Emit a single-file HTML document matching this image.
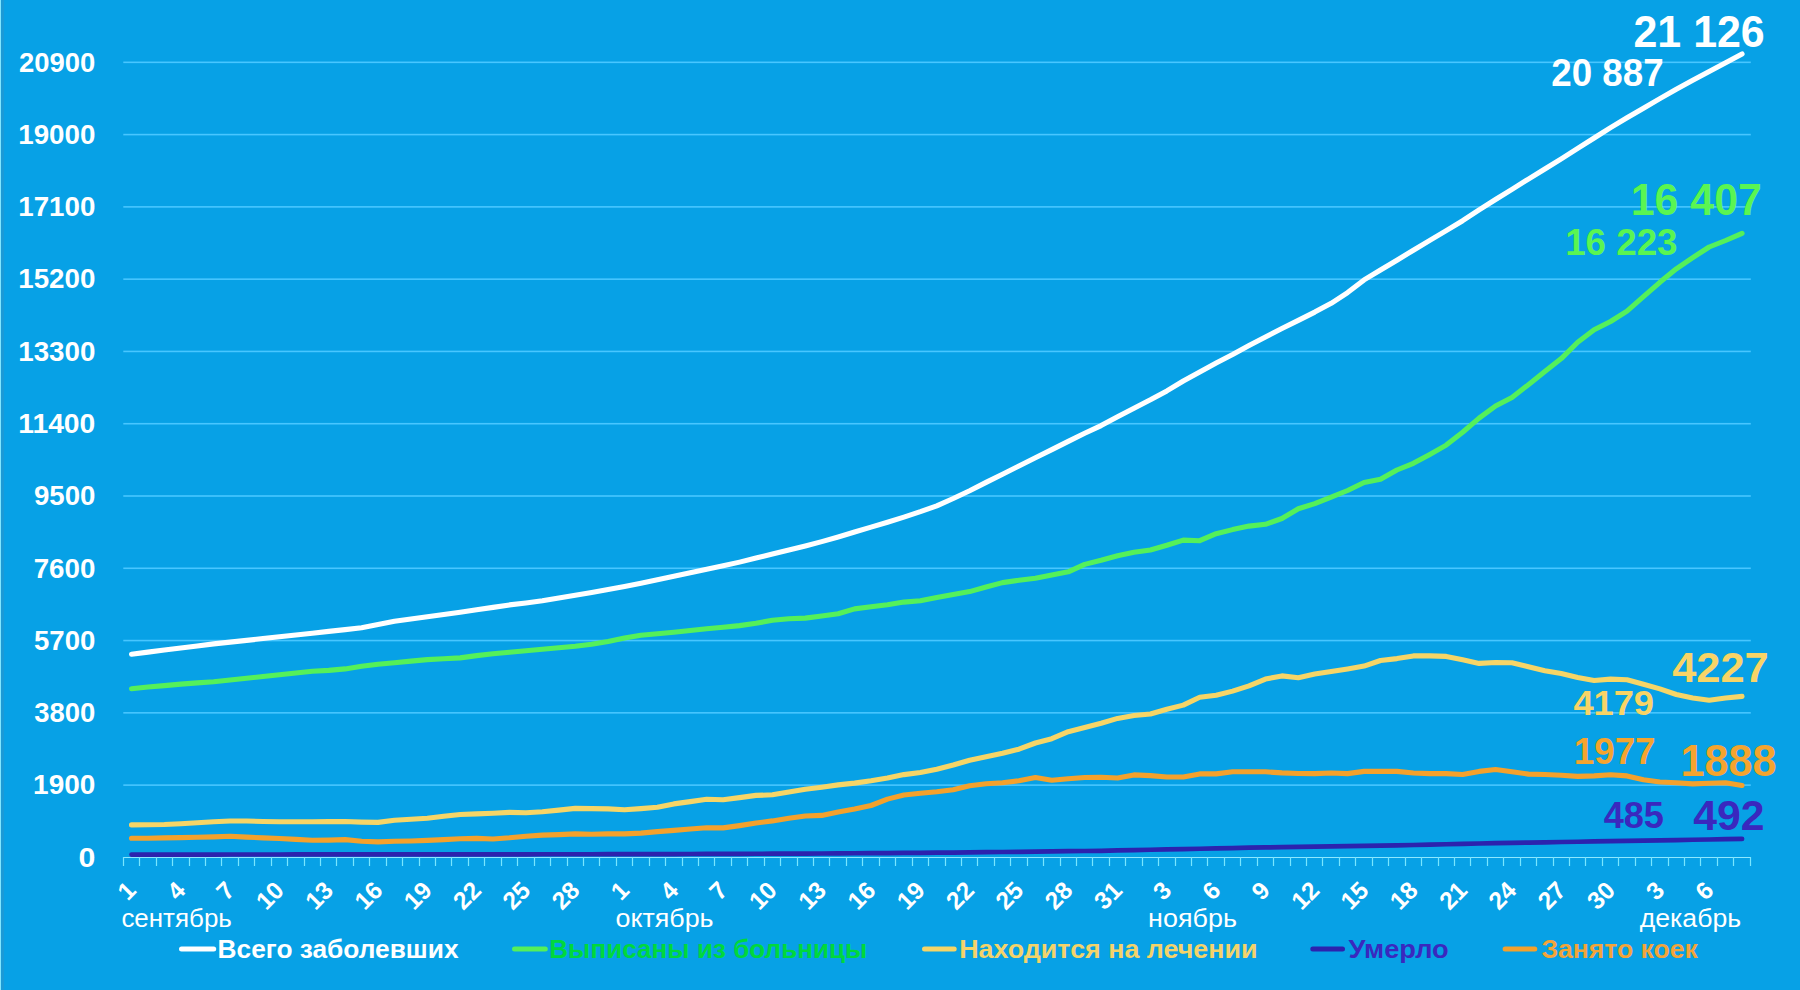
<!DOCTYPE html><html><head><meta charset="utf-8"><title>chart</title><style>
html,body{margin:0;padding:0;width:1800px;height:990px;overflow:hidden;background:#07a1e6}
svg{display:block}
text{font-family:"Liberation Sans",Arial,sans-serif}
</style></head><body>
<svg width="1800" height="990" viewBox="0 0 1800 990">
<rect x="0" y="0" width="1800" height="990" fill="#07a1e6"/>
<rect x="0" y="0" width="1" height="990" fill="#7fe6ff"/>
<rect x="1" y="0" width="3" height="990" fill="#1b9ad6"/>
<rect x="123.3" y="784.32" width="1627.5" height="1.6" fill="#48c6ff"/>
<rect x="123.3" y="712.04" width="1627.5" height="1.6" fill="#48c6ff"/>
<rect x="123.3" y="639.76" width="1627.5" height="1.6" fill="#48c6ff"/>
<rect x="123.3" y="567.48" width="1627.5" height="1.6" fill="#48c6ff"/>
<rect x="123.3" y="495.20" width="1627.5" height="1.6" fill="#48c6ff"/>
<rect x="123.3" y="422.92" width="1627.5" height="1.6" fill="#48c6ff"/>
<rect x="123.3" y="350.64" width="1627.5" height="1.6" fill="#48c6ff"/>
<rect x="123.3" y="278.36" width="1627.5" height="1.6" fill="#48c6ff"/>
<rect x="123.3" y="206.08" width="1627.5" height="1.6" fill="#48c6ff"/>
<rect x="123.3" y="133.80" width="1627.5" height="1.6" fill="#48c6ff"/>
<rect x="123.3" y="61.52" width="1627.5" height="1.6" fill="#48c6ff"/>
<rect x="123" y="857" width="1628" height="1" fill="#8ee8ff"/>
<path d="M123.5,857V866M139.5,857V866M156.5,857V866M172.5,857V866M189.5,857V866M205.5,857V866M221.5,857V866M238.5,857V866M254.5,857V866M271.5,857V866M287.5,857V866M304.5,857V866M320.5,857V866M336.5,857V866M353.5,857V866M369.5,857V866M386.5,857V866M402.5,857V866M419.5,857V866M435.5,857V866M451.5,857V866M468.5,857V866M484.5,857V866M501.5,857V866M517.5,857V866M534.5,857V866M550.5,857V866M567.5,857V866M583.5,857V866M599.5,857V866M616.5,857V866M632.5,857V866M649.5,857V866M665.5,857V866M682.5,857V866M698.5,857V866M714.5,857V866M731.5,857V866M747.5,857V866M764.5,857V866M780.5,857V866M797.5,857V866M813.5,857V866M829.5,857V866M846.5,857V866M862.5,857V866M879.5,857V866M895.5,857V866M912.5,857V866M928.5,857V866M945.5,857V866M961.5,857V866M977.5,857V866M994.5,857V866M1010.5,857V866M1027.5,857V866M1043.5,857V866M1060.5,857V866M1076.5,857V866M1092.5,857V866M1109.5,857V866M1125.5,857V866M1142.5,857V866M1158.5,857V866M1175.5,857V866M1191.5,857V866M1207.5,857V866M1224.5,857V866M1240.5,857V866M1257.5,857V866M1273.5,857V866M1290.5,857V866M1306.5,857V866M1322.5,857V866M1339.5,857V866M1355.5,857V866M1372.5,857V866M1388.5,857V866M1405.5,857V866M1421.5,857V866M1438.5,857V866M1454.5,857V866M1470.5,857V866M1487.5,857V866M1503.5,857V866M1520.5,857V866M1536.5,857V866M1553.5,857V866M1569.5,857V866M1585.5,857V866M1602.5,857V866M1618.5,857V866M1635.5,857V866M1651.5,857V866M1668.5,857V866M1684.5,857V866M1700.5,857V866M1717.5,857V866M1733.5,857V866M1750.5,857V866" stroke="#78e6ff" stroke-width="1.2" fill="none"/>
<text x="78.60" y="866.73" font-size="27.40" textLength="16.84" lengthAdjust="spacingAndGlyphs" fill="#fff" style="font-weight:700" >0</text>
<text x="33.14" y="794.45" font-size="27.40" textLength="62.21" lengthAdjust="spacingAndGlyphs" fill="#fff" style="font-weight:700" >1900</text>
<text x="34.27" y="722.13" font-size="27.34" textLength="61.06" lengthAdjust="spacingAndGlyphs" fill="#fff" style="font-weight:700" >3800</text>
<text x="34.05" y="649.89" font-size="27.40" textLength="61.28" lengthAdjust="spacingAndGlyphs" fill="#fff" style="font-weight:700" >5700</text>
<text x="33.71" y="577.61" font-size="27.40" textLength="61.63" lengthAdjust="spacingAndGlyphs" fill="#fff" style="font-weight:700" >7600</text>
<text x="33.94" y="505.33" font-size="27.40" textLength="61.39" lengthAdjust="spacingAndGlyphs" fill="#fff" style="font-weight:700" >9500</text>
<text x="18.25" y="433.05" font-size="27.40" textLength="77.08" lengthAdjust="spacingAndGlyphs" fill="#fff" style="font-weight:700" >11400</text>
<text x="18.25" y="360.73" font-size="27.34" textLength="77.08" lengthAdjust="spacingAndGlyphs" fill="#fff" style="font-weight:700" >13300</text>
<text x="18.25" y="288.49" font-size="27.40" textLength="77.08" lengthAdjust="spacingAndGlyphs" fill="#fff" style="font-weight:700" >15200</text>
<text x="18.25" y="216.21" font-size="27.40" textLength="77.08" lengthAdjust="spacingAndGlyphs" fill="#fff" style="font-weight:700" >17100</text>
<text x="18.25" y="143.93" font-size="27.40" textLength="77.08" lengthAdjust="spacingAndGlyphs" fill="#fff" style="font-weight:700" >19000</text>
<text x="19.05" y="71.65" font-size="27.40" textLength="76.28" lengthAdjust="spacingAndGlyphs" fill="#fff" style="font-weight:700" >20900</text>
<text transform="translate(137.52,891.80) rotate(-45)" text-anchor="end" font-size="24.5" fill="#fff" style="font-weight:700">1</text>
<text transform="translate(186.82,891.80) rotate(-45)" text-anchor="end" font-size="24.5" fill="#fff" style="font-weight:700">4</text>
<text transform="translate(236.12,891.80) rotate(-45)" text-anchor="end" font-size="24.5" fill="#fff" style="font-weight:700">7</text>
<text transform="translate(285.42,891.80) rotate(-45)" text-anchor="end" font-size="24.5" fill="#fff" style="font-weight:700">10</text>
<text transform="translate(334.73,891.80) rotate(-45)" text-anchor="end" font-size="24.5" fill="#fff" style="font-weight:700">13</text>
<text transform="translate(384.03,891.80) rotate(-45)" text-anchor="end" font-size="24.5" fill="#fff" style="font-weight:700">16</text>
<text transform="translate(433.33,891.80) rotate(-45)" text-anchor="end" font-size="24.5" fill="#fff" style="font-weight:700">19</text>
<text transform="translate(482.63,891.80) rotate(-45)" text-anchor="end" font-size="24.5" fill="#fff" style="font-weight:700">22</text>
<text transform="translate(531.93,891.80) rotate(-45)" text-anchor="end" font-size="24.5" fill="#fff" style="font-weight:700">25</text>
<text transform="translate(581.24,891.80) rotate(-45)" text-anchor="end" font-size="24.5" fill="#fff" style="font-weight:700">28</text>
<text transform="translate(630.54,891.80) rotate(-45)" text-anchor="end" font-size="24.5" fill="#fff" style="font-weight:700">1</text>
<text transform="translate(679.84,891.80) rotate(-45)" text-anchor="end" font-size="24.5" fill="#fff" style="font-weight:700">4</text>
<text transform="translate(729.14,891.80) rotate(-45)" text-anchor="end" font-size="24.5" fill="#fff" style="font-weight:700">7</text>
<text transform="translate(778.44,891.80) rotate(-45)" text-anchor="end" font-size="24.5" fill="#fff" style="font-weight:700">10</text>
<text transform="translate(827.75,891.80) rotate(-45)" text-anchor="end" font-size="24.5" fill="#fff" style="font-weight:700">13</text>
<text transform="translate(877.05,891.80) rotate(-45)" text-anchor="end" font-size="24.5" fill="#fff" style="font-weight:700">16</text>
<text transform="translate(926.35,891.80) rotate(-45)" text-anchor="end" font-size="24.5" fill="#fff" style="font-weight:700">19</text>
<text transform="translate(975.65,891.80) rotate(-45)" text-anchor="end" font-size="24.5" fill="#fff" style="font-weight:700">22</text>
<text transform="translate(1024.95,891.80) rotate(-45)" text-anchor="end" font-size="24.5" fill="#fff" style="font-weight:700">25</text>
<text transform="translate(1074.26,891.80) rotate(-45)" text-anchor="end" font-size="24.5" fill="#fff" style="font-weight:700">28</text>
<text transform="translate(1123.56,891.80) rotate(-45)" text-anchor="end" font-size="24.5" fill="#fff" style="font-weight:700">31</text>
<text transform="translate(1172.86,891.80) rotate(-45)" text-anchor="end" font-size="24.5" fill="#fff" style="font-weight:700">3</text>
<text transform="translate(1222.16,891.80) rotate(-45)" text-anchor="end" font-size="24.5" fill="#fff" style="font-weight:700">6</text>
<text transform="translate(1271.46,891.80) rotate(-45)" text-anchor="end" font-size="24.5" fill="#fff" style="font-weight:700">9</text>
<text transform="translate(1320.77,891.80) rotate(-45)" text-anchor="end" font-size="24.5" fill="#fff" style="font-weight:700">12</text>
<text transform="translate(1370.07,891.80) rotate(-45)" text-anchor="end" font-size="24.5" fill="#fff" style="font-weight:700">15</text>
<text transform="translate(1419.37,891.80) rotate(-45)" text-anchor="end" font-size="24.5" fill="#fff" style="font-weight:700">18</text>
<text transform="translate(1468.67,891.80) rotate(-45)" text-anchor="end" font-size="24.5" fill="#fff" style="font-weight:700">21</text>
<text transform="translate(1517.97,891.80) rotate(-45)" text-anchor="end" font-size="24.5" fill="#fff" style="font-weight:700">24</text>
<text transform="translate(1567.28,891.80) rotate(-45)" text-anchor="end" font-size="24.5" fill="#fff" style="font-weight:700">27</text>
<text transform="translate(1616.58,891.80) rotate(-45)" text-anchor="end" font-size="24.5" fill="#fff" style="font-weight:700">30</text>
<text transform="translate(1665.88,891.80) rotate(-45)" text-anchor="end" font-size="24.5" fill="#fff" style="font-weight:700">3</text>
<text transform="translate(1715.18,891.80) rotate(-45)" text-anchor="end" font-size="24.5" fill="#fff" style="font-weight:700">6</text>
<text x="121.40" y="926.80" font-size="25.74" textLength="110.47" lengthAdjust="spacingAndGlyphs" fill="#fff" style="font-weight:400">сентябрь</text>
<text x="615.57" y="926.80" font-size="25.74" textLength="98.03" lengthAdjust="spacingAndGlyphs" fill="#fff" style="font-weight:400">октябрь</text>
<text x="1148.13" y="926.80" font-size="25.74" textLength="88.77" lengthAdjust="spacingAndGlyphs" fill="#fff" style="font-weight:400">ноябрь</text>
<text x="1639.74" y="926.80" font-size="25.74" textLength="101.36" lengthAdjust="spacingAndGlyphs" fill="#fff" style="font-weight:400">декабрь</text>
<path d="M131.52,654.20 C131.52,654.20 147.95,652.14 147.95,652.14 C147.95,652.14 164.38,650.08 164.38,650.08 C164.38,650.08 180.82,648.02 180.82,648.02 C180.82,648.02 197.25,645.96 197.25,645.96 C197.25,645.96 213.69,643.90 213.69,643.90 C213.69,643.90 230.12,642.12 230.12,642.12 C230.12,642.12 246.56,640.34 246.56,640.34 C246.56,640.34 262.99,638.56 262.99,638.56 C262.99,638.56 279.42,636.78 279.42,636.78 C279.42,636.78 295.86,635.00 295.86,635.00 C295.86,635.00 312.29,633.20 312.29,633.20 C312.29,633.20 328.73,631.40 328.73,631.40 C328.73,631.40 345.16,629.60 345.16,629.60 C345.16,629.60 361.59,627.70 361.59,627.70 C361.59,627.70 378.03,624.50 378.03,624.50 C378.03,624.50 394.46,621.30 394.46,621.30 C394.46,621.30 410.90,619.05 410.90,619.05 C410.90,619.05 427.33,616.80 427.33,616.80 C427.33,616.80 443.76,614.55 443.76,614.55 C443.76,614.55 460.20,612.30 460.20,612.30 C460.20,612.30 476.63,609.83 476.63,609.83 C476.63,609.83 493.07,607.37 493.07,607.37 C493.07,607.37 509.50,604.90 509.50,604.90 C509.50,604.90 525.93,603.00 525.93,603.00 C525.93,603.00 542.37,600.74 542.37,600.74 C542.37,600.74 558.80,597.97 558.80,597.97 C558.80,597.97 575.24,595.24 575.24,595.24 C575.24,595.24 591.67,592.49 591.67,592.49 C591.67,592.49 608.10,589.55 608.10,589.55 C608.10,589.55 624.54,586.42 624.54,586.42 C624.54,586.42 640.97,583.16 640.97,583.16 C640.97,583.16 657.40,579.77 657.40,579.77 C657.40,579.77 673.84,576.26 673.84,576.26 C673.84,576.26 690.27,572.69 690.27,572.69 C690.27,572.69 706.71,569.24 706.71,569.24 C706.71,569.24 723.14,565.84 723.14,565.84 C723.14,565.84 739.58,562.12 739.58,562.12 C739.58,562.12 756.01,558.09 756.01,558.09 C756.01,558.09 772.44,554.06 772.44,554.06 C772.44,554.06 788.88,550.06 788.88,550.06 C788.88,550.06 805.31,545.94 805.31,545.94 C805.31,545.94 821.75,541.64 821.75,541.64 C821.75,541.64 838.18,536.99 838.18,536.99 C838.18,536.99 854.61,532.04 854.61,532.04 C854.61,532.04 871.05,527.09 871.05,527.09 C871.05,527.09 887.48,522.21 887.48,522.21 C887.48,522.21 903.91,517.14 903.91,517.14 C903.91,517.14 920.35,511.68 920.35,511.68 C920.35,511.68 936.78,505.80 936.78,505.80 C936.78,505.80 953.22,498.50 953.22,498.50 C953.22,498.50 969.65,490.70 969.65,490.70 C969.65,490.70 986.09,482.40 986.09,482.40 C986.09,482.40 1002.52,474.20 1002.52,474.20 C1002.52,474.20 1018.95,466.00 1018.95,466.00 C1018.95,466.00 1035.39,457.80 1035.39,457.80 C1035.39,457.80 1051.82,449.60 1051.82,449.60 C1051.82,449.60 1068.26,441.40 1068.26,441.40 C1068.26,441.40 1084.69,433.30 1084.69,433.30 C1084.69,433.30 1101.12,425.60 1101.12,425.60 C1101.12,425.60 1117.56,416.70 1117.56,416.70 C1117.56,416.70 1133.99,408.20 1133.99,408.20 C1133.99,408.20 1150.42,399.80 1150.42,399.80 C1150.42,399.80 1166.86,390.90 1166.86,390.90 C1166.86,390.90 1183.29,381.00 1183.29,381.00 C1183.29,381.00 1199.73,371.90 1199.73,371.90 C1199.73,371.90 1216.16,363.00 1216.16,363.00 C1216.16,363.00 1232.60,354.60 1232.60,354.60 C1232.60,354.60 1249.03,345.60 1249.03,345.60 C1249.03,345.60 1265.46,337.00 1265.46,337.00 C1265.46,337.00 1281.90,328.60 1281.90,328.60 C1281.90,328.60 1298.33,320.40 1298.33,320.40 C1298.33,320.40 1314.77,312.10 1314.77,312.10 C1314.77,312.10 1331.20,303.30 1331.20,303.30 C1331.20,303.30 1347.63,292.60 1347.63,292.60 C1347.63,292.60 1364.07,279.90 1364.07,279.90 C1364.07,279.90 1380.50,270.00 1380.50,270.00 C1380.50,270.00 1396.93,260.20 1396.93,260.20 C1396.93,260.20 1413.37,250.20 1413.37,250.20 C1413.37,250.20 1429.80,240.40 1429.80,240.40 C1429.80,240.40 1446.24,230.60 1446.24,230.60 C1446.24,230.60 1462.67,220.70 1462.67,220.70 C1462.67,220.70 1479.11,209.80 1479.11,209.80 C1479.11,209.80 1495.54,199.50 1495.54,199.50 C1495.54,199.50 1511.97,189.30 1511.97,189.30 C1511.97,189.30 1528.41,179.10 1528.41,179.10 C1528.41,179.10 1544.84,169.00 1544.84,169.00 C1544.84,169.00 1561.28,158.80 1561.28,158.80 C1561.28,158.80 1577.71,148.40 1577.71,148.40 C1577.71,148.40 1594.14,138.00 1594.14,138.00 C1594.14,138.00 1610.58,127.60 1610.58,127.60 C1610.58,127.60 1627.01,117.80 1627.01,117.80 C1627.01,117.80 1643.45,108.20 1643.45,108.20 C1643.45,108.20 1659.88,98.60 1659.88,98.60 C1659.88,98.60 1676.31,89.20 1676.31,89.20 C1676.31,89.20 1692.75,80.30 1692.75,80.30 C1692.75,80.30 1709.18,71.50 1709.18,71.50 C1709.18,71.50 1725.62,62.80 1725.62,62.80 C1725.62,62.80 1742.05,53.90 1742.05,53.90" fill="none" stroke="#ffffff" stroke-width="5.10" stroke-linecap="round" stroke-linejoin="round"/>
<path d="M131.52,688.80 C131.52,688.80 147.95,687.00 147.95,687.00 C147.95,687.00 164.38,685.60 164.38,685.60 C164.38,685.60 180.82,684.10 180.82,684.10 C180.82,684.10 197.25,682.90 197.25,682.90 C197.25,682.90 213.69,681.80 213.69,681.80 C213.69,681.80 230.12,680.00 230.12,680.00 C230.12,680.00 246.56,678.30 246.56,678.30 C246.56,678.30 262.99,676.50 262.99,676.50 C262.99,676.50 279.42,674.80 279.42,674.80 C279.42,674.80 295.86,673.00 295.86,673.00 C295.86,673.00 312.29,671.30 312.29,671.30 C312.29,671.30 328.73,670.40 328.73,670.40 C328.73,670.40 345.16,668.90 345.16,668.90 C345.16,668.90 361.59,666.30 361.59,666.30 C361.59,666.30 378.03,664.20 378.03,664.20 C378.03,664.20 394.46,662.80 394.46,662.80 C394.46,662.80 410.90,661.10 410.90,661.10 C410.90,661.10 427.33,659.60 427.33,659.60 C427.33,659.60 443.76,658.80 443.76,658.80 C443.76,658.80 460.20,657.90 460.20,657.90 C460.20,657.90 476.63,655.60 476.63,655.60 C476.63,655.60 493.07,653.80 493.07,653.80 C493.07,653.80 509.50,652.20 509.50,652.20 C509.50,652.20 525.93,650.80 525.93,650.80 C525.93,650.80 542.37,649.30 542.37,649.30 C542.37,649.30 558.80,647.80 558.80,647.80 C558.80,647.80 575.24,646.30 575.24,646.30 C575.24,646.30 591.67,644.30 591.67,644.30 C591.67,644.30 608.10,641.60 608.10,641.60 C608.10,641.60 624.54,638.10 624.54,638.10 C624.54,638.10 640.97,635.20 640.97,635.20 C640.97,635.20 657.40,633.80 657.40,633.80 C657.40,633.80 673.84,632.30 673.84,632.30 C673.84,632.30 690.27,630.50 690.27,630.50 C690.27,630.50 706.71,628.80 706.71,628.80 C706.71,628.80 723.14,627.30 723.14,627.30 C723.14,627.30 739.58,625.60 739.58,625.60 C739.58,625.60 756.01,623.30 756.01,623.30 C756.01,623.30 772.44,620.20 772.44,620.20 C772.44,620.20 788.88,618.80 788.88,618.80 C788.88,618.80 805.31,618.10 805.31,618.10 C805.31,618.10 821.75,616.00 821.75,616.00 C821.75,616.00 838.18,613.80 838.18,613.80 C838.18,613.80 854.61,608.90 854.61,608.90 C854.61,608.90 871.05,606.80 871.05,606.80 C871.05,606.80 887.48,604.70 887.48,604.70 C887.48,604.70 903.91,602.10 903.91,602.10 C903.91,602.10 920.35,600.80 920.35,600.80 C920.35,600.80 936.78,597.60 936.78,597.60 C936.78,597.60 953.22,594.40 953.22,594.40 C953.22,594.40 969.65,591.60 969.65,591.60 C969.65,591.60 986.09,587.00 986.09,587.00 C986.09,587.00 1002.52,582.60 1002.52,582.60 C1002.52,582.60 1018.95,580.30 1018.95,580.30 C1018.95,580.30 1035.39,578.20 1035.39,578.20 C1035.39,578.20 1051.82,575.00 1051.82,575.00 C1051.82,575.00 1068.26,571.80 1068.26,571.80 C1068.26,571.80 1084.69,564.40 1084.69,564.40 C1084.69,564.40 1101.12,560.30 1101.12,560.30 C1101.12,560.30 1117.56,555.80 1117.56,555.80 C1117.56,555.80 1133.99,552.30 1133.99,552.30 C1133.99,552.30 1150.42,550.00 1150.42,550.00 C1150.42,550.00 1166.86,545.30 1166.86,545.30 C1166.86,545.30 1183.29,540.10 1183.29,540.10 C1183.29,540.10 1199.73,540.70 1199.73,540.70 C1199.73,540.70 1216.16,533.70 1216.16,533.70 C1216.16,533.70 1232.60,529.60 1232.60,529.60 C1232.60,529.60 1249.03,526.10 1249.03,526.10 C1249.03,526.10 1265.46,524.30 1265.46,524.30 C1265.46,524.30 1281.90,518.50 1281.90,518.50 C1281.90,518.50 1298.33,508.80 1298.33,508.80 C1298.33,508.80 1314.77,503.60 1314.77,503.60 C1314.77,503.60 1331.20,497.20 1331.20,497.20 C1331.20,497.20 1347.63,490.50 1347.63,490.50 C1347.63,490.50 1364.07,482.50 1364.07,482.50 C1364.07,482.50 1380.50,479.30 1380.50,479.30 C1380.50,479.30 1396.93,470.00 1396.93,470.00 C1396.93,470.00 1413.37,463.30 1413.37,463.30 C1413.37,463.30 1429.80,454.40 1429.80,454.40 C1429.80,454.40 1446.24,445.10 1446.24,445.10 C1446.24,445.10 1462.67,432.30 1462.67,432.30 C1462.67,432.30 1479.11,418.10 1479.11,418.10 C1479.11,418.10 1495.54,406.00 1495.54,406.00 C1495.54,406.00 1511.97,397.50 1511.97,397.50 C1511.97,397.50 1528.41,384.70 1528.41,384.70 C1528.41,384.70 1544.84,371.50 1544.84,371.50 C1544.84,371.50 1561.28,358.60 1561.28,358.60 C1561.28,358.60 1577.71,342.30 1577.71,342.30 C1577.71,342.30 1594.14,329.80 1594.14,329.80 C1594.14,329.80 1610.58,321.50 1610.58,321.50 C1610.58,321.50 1627.01,311.10 1627.01,311.10 C1627.01,311.10 1643.45,296.70 1643.45,296.70 C1643.45,296.70 1659.88,282.30 1659.88,282.30 C1659.88,282.30 1676.31,268.80 1676.31,268.80 C1676.31,268.80 1692.75,257.70 1692.75,257.70 C1692.75,257.70 1709.18,247.00 1709.18,247.00 C1709.18,247.00 1725.62,240.50 1725.62,240.50 C1725.62,240.50 1742.05,233.30 1742.05,233.30" fill="none" stroke="#55f05a" stroke-width="5.10" stroke-linecap="round" stroke-linejoin="round"/>
<path d="M131.52,824.90 C131.52,824.90 147.95,824.70 147.95,824.70 C147.95,824.70 164.38,824.50 164.38,824.50 C164.38,824.50 180.82,823.70 180.82,823.70 C180.82,823.70 197.25,822.80 197.25,822.80 C197.25,822.80 213.69,821.70 213.69,821.70 C213.69,821.70 230.12,821.00 230.12,821.00 C230.12,821.00 246.56,821.00 246.56,821.00 C246.56,821.00 262.99,821.50 262.99,821.50 C262.99,821.50 279.42,821.70 279.42,821.70 C279.42,821.70 295.86,821.80 295.86,821.80 C295.86,821.80 312.29,821.70 312.29,821.70 C312.29,821.70 328.73,821.60 328.73,821.60 C328.73,821.60 345.16,821.50 345.16,821.50 C345.16,821.50 361.59,822.10 361.59,822.10 C361.59,822.10 378.03,822.40 378.03,822.40 C378.03,822.40 394.46,820.30 394.46,820.30 C394.46,820.30 410.90,819.20 410.90,819.20 C410.90,819.20 427.33,818.20 427.33,818.20 C427.33,818.20 443.76,816.30 443.76,816.30 C443.76,816.30 460.20,814.50 460.20,814.50 C460.20,814.50 476.63,813.90 476.63,813.90 C476.63,813.90 493.07,813.30 493.07,813.30 C493.07,813.30 509.50,812.40 509.50,812.40 C509.50,812.40 525.93,812.70 525.93,812.70 C525.93,812.70 542.37,811.70 542.37,811.70 C542.37,811.70 558.80,810.10 558.80,810.10 C558.80,810.10 575.24,808.40 575.24,808.40 C575.24,808.40 591.67,808.60 591.67,808.60 C591.67,808.60 608.10,808.90 608.10,808.90 C608.10,808.90 624.54,809.80 624.54,809.80 C624.54,809.80 640.97,808.60 640.97,808.60 C640.97,808.60 657.40,807.20 657.40,807.20 C657.40,807.20 673.84,803.90 673.84,803.90 C673.84,803.90 690.27,801.60 690.27,801.60 C690.27,801.60 706.71,799.30 706.71,799.30 C706.71,799.30 723.14,799.70 723.14,799.70 C723.14,799.70 739.58,797.60 739.58,797.60 C739.58,797.60 756.01,795.40 756.01,795.40 C756.01,795.40 772.44,794.80 772.44,794.80 C772.44,794.80 788.88,792.10 788.88,792.10 C788.88,792.10 805.31,789.20 805.31,789.20 C805.31,789.20 821.75,787.20 821.75,787.20 C821.75,787.20 838.18,784.90 838.18,784.90 C838.18,784.90 854.61,783.10 854.61,783.10 C854.61,783.10 871.05,780.80 871.05,780.80 C871.05,780.80 887.48,778.10 887.48,778.10 C887.48,778.10 903.91,774.60 903.91,774.60 C903.91,774.60 920.35,772.50 920.35,772.50 C920.35,772.50 936.78,769.20 936.78,769.20 C936.78,769.20 953.22,765.00 953.22,765.00 C953.22,765.00 969.65,760.30 969.65,760.30 C969.65,760.30 986.09,756.70 986.09,756.70 C986.09,756.70 1002.52,753.30 1002.52,753.30 C1002.52,753.30 1018.95,749.20 1018.95,749.20 C1018.95,749.20 1035.39,743.00 1035.39,743.00 C1035.39,743.00 1051.82,738.70 1051.82,738.70 C1051.82,738.70 1068.26,731.70 1068.26,731.70 C1068.26,731.70 1084.69,727.50 1084.69,727.50 C1084.69,727.50 1101.12,723.30 1101.12,723.30 C1101.12,723.30 1117.56,718.40 1117.56,718.40 C1117.56,718.40 1133.99,715.50 1133.99,715.50 C1133.99,715.50 1150.42,714.00 1150.42,714.00 C1150.42,714.00 1166.86,709.30 1166.86,709.30 C1166.86,709.30 1183.29,705.10 1183.29,705.10 C1183.29,705.10 1199.73,697.30 1199.73,697.30 C1199.73,697.30 1216.16,695.20 1216.16,695.20 C1216.16,695.20 1232.60,691.10 1232.60,691.10 C1232.60,691.10 1249.03,685.90 1249.03,685.90 C1249.03,685.90 1265.46,679.10 1265.46,679.10 C1265.46,679.10 1281.90,675.90 1281.90,675.90 C1281.90,675.90 1298.33,677.80 1298.33,677.80 C1298.33,677.80 1314.77,674.10 1314.77,674.10 C1314.77,674.10 1331.20,671.40 1331.20,671.40 C1331.20,671.40 1347.63,668.90 1347.63,668.90 C1347.63,668.90 1364.07,666.10 1364.07,666.10 C1364.07,666.10 1380.50,660.50 1380.50,660.50 C1380.50,660.50 1396.93,658.60 1396.93,658.60 C1396.93,658.60 1413.37,655.90 1413.37,655.90 C1413.37,655.90 1429.80,655.90 1429.80,655.90 C1429.80,655.90 1446.24,656.40 1446.24,656.40 C1446.24,656.40 1462.67,659.80 1462.67,659.80 C1462.67,659.80 1479.11,663.40 1479.11,663.40 C1479.11,663.40 1495.54,662.50 1495.54,662.50 C1495.54,662.50 1511.97,662.70 1511.97,662.70 C1511.97,662.70 1528.41,666.80 1528.41,666.80 C1528.41,666.80 1544.84,670.70 1544.84,670.70 C1544.84,670.70 1561.28,673.60 1561.28,673.60 C1561.28,673.60 1577.71,677.50 1577.71,677.50 C1577.71,677.50 1594.14,680.50 1594.14,680.50 C1594.14,680.50 1610.58,679.10 1610.58,679.10 C1610.58,679.10 1627.01,679.80 1627.01,679.80 C1627.01,679.80 1643.45,684.30 1643.45,684.30 C1643.45,684.30 1659.88,688.90 1659.88,688.90 C1659.88,688.90 1676.31,694.50 1676.31,694.50 C1676.31,694.50 1692.75,698.00 1692.75,698.00 C1692.75,698.00 1709.18,700.20 1709.18,700.20 C1709.18,700.20 1725.62,698.00 1725.62,698.00 C1725.62,698.00 1742.05,696.40 1742.05,696.40" fill="none" stroke="#f6d567" stroke-width="5.10" stroke-linecap="round" stroke-linejoin="round"/>
<path d="M131.52,854.60 C131.52,854.60 147.95,854.59 147.95,854.59 C147.95,854.59 164.38,854.57 164.38,854.57 C164.38,854.57 180.82,854.56 180.82,854.56 C180.82,854.56 197.25,854.55 197.25,854.55 C197.25,854.55 213.69,854.53 213.69,854.53 C213.69,854.53 230.12,854.52 230.12,854.52 C230.12,854.52 246.56,854.51 246.56,854.51 C246.56,854.51 262.99,854.49 262.99,854.49 C262.99,854.49 279.42,854.48 279.42,854.48 C279.42,854.48 295.86,854.47 295.86,854.47 C295.86,854.47 312.29,854.45 312.29,854.45 C312.29,854.45 328.73,854.44 328.73,854.44 C328.73,854.44 345.16,854.43 345.16,854.43 C345.16,854.43 361.59,854.41 361.59,854.41 C361.59,854.41 378.03,854.40 378.03,854.40 C378.03,854.40 394.46,854.39 394.46,854.39 C394.46,854.39 410.90,854.37 410.90,854.37 C410.90,854.37 427.33,854.36 427.33,854.36 C427.33,854.36 443.76,854.35 443.76,854.35 C443.76,854.35 460.20,854.33 460.20,854.33 C460.20,854.33 476.63,854.32 476.63,854.32 C476.63,854.32 493.07,854.31 493.07,854.31 C493.07,854.31 509.50,854.29 509.50,854.29 C509.50,854.29 525.93,854.28 525.93,854.28 C525.93,854.28 542.37,854.27 542.37,854.27 C542.37,854.27 558.80,854.25 558.80,854.25 C558.80,854.25 575.24,854.24 575.24,854.24 C575.24,854.24 591.67,854.23 591.67,854.23 C591.67,854.23 608.10,854.21 608.10,854.21 C608.10,854.21 624.54,854.20 624.54,854.20 C624.54,854.20 640.97,854.15 640.97,854.15 C640.97,854.15 657.40,854.09 657.40,854.09 C657.40,854.09 673.84,854.04 673.84,854.04 C673.84,854.04 690.27,853.98 690.27,853.98 C690.27,853.98 706.71,853.93 706.71,853.93 C706.71,853.93 723.14,853.87 723.14,853.87 C723.14,853.87 739.58,853.82 739.58,853.82 C739.58,853.82 756.01,853.76 756.01,853.76 C756.01,853.76 772.44,853.71 772.44,853.71 C772.44,853.71 788.88,853.65 788.88,853.65 C788.88,853.65 805.31,853.60 805.31,853.60 C805.31,853.60 821.75,853.49 821.75,853.49 C821.75,853.49 838.18,853.38 838.18,853.38 C838.18,853.38 854.61,853.27 854.61,853.27 C854.61,853.27 871.05,853.16 871.05,853.16 C871.05,853.16 887.48,853.04 887.48,853.04 C887.48,853.04 903.91,852.93 903.91,852.93 C903.91,852.93 920.35,852.82 920.35,852.82 C920.35,852.82 936.78,852.71 936.78,852.71 C936.78,852.71 953.22,852.60 953.22,852.60 C953.22,852.60 969.65,852.40 969.65,852.40 C969.65,852.40 986.09,852.20 986.09,852.20 C986.09,852.20 1002.52,852.00 1002.52,852.00 C1002.52,852.00 1018.95,851.80 1018.95,851.80 C1018.95,851.80 1035.39,851.60 1035.39,851.60 C1035.39,851.60 1051.82,851.40 1051.82,851.40 C1051.82,851.40 1068.26,851.20 1068.26,851.20 C1068.26,851.20 1084.69,851.00 1084.69,851.00 C1084.69,851.00 1101.12,850.80 1101.12,850.80 C1101.12,850.80 1117.56,850.46 1117.56,850.46 C1117.56,850.46 1133.99,850.11 1133.99,850.11 C1133.99,850.11 1150.42,849.77 1150.42,849.77 C1150.42,849.77 1166.86,849.42 1166.86,849.42 C1166.86,849.42 1183.29,849.08 1183.29,849.08 C1183.29,849.08 1199.73,848.73 1199.73,848.73 C1199.73,848.73 1216.16,848.39 1216.16,848.39 C1216.16,848.39 1232.60,848.04 1232.60,848.04 C1232.60,848.04 1249.03,847.70 1249.03,847.70 C1249.03,847.70 1265.46,847.44 1265.46,847.44 C1265.46,847.44 1281.90,847.19 1281.90,847.19 C1281.90,847.19 1298.33,846.93 1298.33,846.93 C1298.33,846.93 1314.77,846.68 1314.77,846.68 C1314.77,846.68 1331.20,846.42 1331.20,846.42 C1331.20,846.42 1347.63,846.17 1347.63,846.17 C1347.63,846.17 1364.07,845.91 1364.07,845.91 C1364.07,845.91 1380.50,845.66 1380.50,845.66 C1380.50,845.66 1396.93,845.40 1396.93,845.40 C1396.93,845.40 1413.37,845.02 1413.37,845.02 C1413.37,845.02 1429.80,844.63 1429.80,844.63 C1429.80,844.63 1446.24,844.25 1446.24,844.25 C1446.24,844.25 1462.67,843.87 1462.67,843.87 C1462.67,843.87 1479.11,843.48 1479.11,843.48 C1479.11,843.48 1495.54,843.10 1495.54,843.10 C1495.54,843.10 1511.97,842.83 1511.97,842.83 C1511.97,842.83 1528.41,842.56 1528.41,842.56 C1528.41,842.56 1544.84,842.29 1544.84,842.29 C1544.84,842.29 1561.28,842.01 1561.28,842.01 C1561.28,842.01 1577.71,841.74 1577.71,841.74 C1577.71,841.74 1594.14,841.47 1594.14,841.47 C1594.14,841.47 1610.58,841.20 1610.58,841.20 C1610.58,841.20 1627.01,840.91 1627.01,840.91 C1627.01,840.91 1643.45,840.62 1643.45,840.62 C1643.45,840.62 1659.88,840.34 1659.88,840.34 C1659.88,840.34 1676.31,840.05 1676.31,840.05 C1676.31,840.05 1692.75,839.76 1692.75,839.76 C1692.75,839.76 1709.18,839.48 1709.18,839.48 C1709.18,839.48 1725.62,839.19 1725.62,839.19 C1725.62,839.19 1742.05,838.90 1742.05,838.90" fill="none" stroke="#2c22ae" stroke-width="4.70" stroke-linecap="round" stroke-linejoin="round"/>
<path d="M131.52,838.20 C131.52,838.20 147.95,838.20 147.95,838.20 C147.95,838.20 164.38,837.90 164.38,837.90 C164.38,837.90 180.82,837.60 180.82,837.60 C180.82,837.60 197.25,837.30 197.25,837.30 C197.25,837.30 213.69,836.90 213.69,836.90 C213.69,836.90 230.12,836.20 230.12,836.20 C230.12,836.20 246.56,837.10 246.56,837.10 C246.56,837.10 262.99,837.90 262.99,837.90 C262.99,837.90 279.42,838.50 279.42,838.50 C279.42,838.50 295.86,839.40 295.86,839.40 C295.86,839.40 312.29,840.30 312.29,840.30 C312.29,840.30 328.73,840.10 328.73,840.10 C328.73,840.10 345.16,839.60 345.16,839.60 C345.16,839.60 361.59,841.30 361.59,841.30 C361.59,841.30 378.03,841.90 378.03,841.90 C378.03,841.90 394.46,841.30 394.46,841.30 C394.46,841.30 410.90,841.00 410.90,841.00 C410.90,841.00 427.33,840.40 427.33,840.40 C427.33,840.40 443.76,839.60 443.76,839.60 C443.76,839.60 460.20,838.80 460.20,838.80 C460.20,838.80 476.63,838.40 476.63,838.40 C476.63,838.40 493.07,839.00 493.07,839.00 C493.07,839.00 509.50,837.80 509.50,837.80 C509.50,837.80 525.93,836.20 525.93,836.20 C525.93,836.20 542.37,835.10 542.37,835.10 C542.37,835.10 558.80,834.60 558.80,834.60 C558.80,834.60 575.24,833.90 575.24,833.90 C575.24,833.90 591.67,834.30 591.67,834.30 C591.67,834.30 608.10,833.90 608.10,833.90 C608.10,833.90 624.54,833.90 624.54,833.90 C624.54,833.90 640.97,833.10 640.97,833.10 C640.97,833.10 657.40,831.60 657.40,831.60 C657.40,831.60 673.84,830.40 673.84,830.40 C673.84,830.40 690.27,829.00 690.27,829.00 C690.27,829.00 706.71,827.80 706.71,827.80 C706.71,827.80 723.14,827.90 723.14,827.90 C723.14,827.90 739.58,825.60 739.58,825.60 C739.58,825.60 756.01,823.00 756.01,823.00 C756.01,823.00 772.44,820.90 772.44,820.90 C772.44,820.90 788.88,818.30 788.88,818.30 C788.88,818.30 805.31,816.00 805.31,816.00 C805.31,816.00 821.75,815.40 821.75,815.40 C821.75,815.40 838.18,811.90 838.18,811.90 C838.18,811.90 854.61,809.00 854.61,809.00 C854.61,809.00 871.05,805.50 871.05,805.50 C871.05,805.50 887.48,799.10 887.48,799.10 C887.48,799.10 903.91,795.00 903.91,795.00 C903.91,795.00 920.35,793.30 920.35,793.30 C920.35,793.30 936.78,791.70 936.78,791.70 C936.78,791.70 953.22,789.70 953.22,789.70 C953.22,789.70 969.65,785.80 969.65,785.80 C969.65,785.80 986.09,783.80 986.09,783.80 C986.09,783.80 1002.52,782.70 1002.52,782.70 C1002.52,782.70 1018.95,780.80 1018.95,780.80 C1018.95,780.80 1035.39,777.50 1035.39,777.50 C1035.39,777.50 1051.82,780.30 1051.82,780.30 C1051.82,780.30 1068.26,778.70 1068.26,778.70 C1068.26,778.70 1084.69,777.50 1084.69,777.50 C1084.69,777.50 1101.12,777.20 1101.12,777.20 C1101.12,777.20 1117.56,778.00 1117.56,778.00 C1117.56,778.00 1133.99,774.90 1133.99,774.90 C1133.99,774.90 1150.42,775.60 1150.42,775.60 C1150.42,775.60 1166.86,777.00 1166.86,777.00 C1166.86,777.00 1183.29,777.00 1183.29,777.00 C1183.29,777.00 1199.73,773.90 1199.73,773.90 C1199.73,773.90 1216.16,773.90 1216.16,773.90 C1216.16,773.90 1232.60,771.80 1232.60,771.80 C1232.60,771.80 1249.03,771.80 1249.03,771.80 C1249.03,771.80 1265.46,771.80 1265.46,771.80 C1265.46,771.80 1281.90,772.90 1281.90,772.90 C1281.90,772.90 1298.33,773.50 1298.33,773.50 C1298.33,773.50 1314.77,773.60 1314.77,773.60 C1314.77,773.60 1331.20,773.00 1331.20,773.00 C1331.20,773.00 1347.63,773.60 1347.63,773.60 C1347.63,773.60 1364.07,771.40 1364.07,771.40 C1364.07,771.40 1380.50,771.40 1380.50,771.40 C1380.50,771.40 1396.93,771.40 1396.93,771.40 C1396.93,771.40 1413.37,773.00 1413.37,773.00 C1413.37,773.00 1429.80,773.60 1429.80,773.60 C1429.80,773.60 1446.24,773.60 1446.24,773.60 C1446.24,773.60 1462.67,774.50 1462.67,774.50 C1462.67,774.50 1479.11,771.40 1479.11,771.40 C1479.11,771.40 1495.54,769.50 1495.54,769.50 C1495.54,769.50 1511.97,771.80 1511.97,771.80 C1511.97,771.80 1528.41,774.10 1528.41,774.10 C1528.41,774.10 1544.84,774.50 1544.84,774.50 C1544.84,774.50 1561.28,775.20 1561.28,775.20 C1561.28,775.20 1577.71,776.40 1577.71,776.40 C1577.71,776.40 1594.14,775.90 1594.14,775.90 C1594.14,775.90 1610.58,774.80 1610.58,774.80 C1610.58,774.80 1627.01,775.90 1627.01,775.90 C1627.01,775.90 1643.45,779.80 1643.45,779.80 C1643.45,779.80 1659.88,782.00 1659.88,782.00 C1659.88,782.00 1676.31,782.70 1676.31,782.70 C1676.31,782.70 1692.75,783.90 1692.75,783.90 C1692.75,783.90 1709.18,783.20 1709.18,783.20 C1709.18,783.20 1725.62,782.70 1725.62,782.70 C1725.62,782.70 1742.05,785.50 1742.05,785.50" fill="none" stroke="#f4a12c" stroke-width="5.10" stroke-linecap="round" stroke-linejoin="round"/>
<text x="1633.51" y="46.77" font-size="44.49" textLength="131.24" lengthAdjust="spacingAndGlyphs" fill="#ffffff" style="font-weight:700" >21 126</text>
<text x="1551.23" y="85.83" font-size="38.14" textLength="112.39" lengthAdjust="spacingAndGlyphs" fill="#ffffff" style="font-weight:700" >20 887</text>
<text x="1630.80" y="215.37" font-size="44.49" textLength="130.98" lengthAdjust="spacingAndGlyphs" fill="#5af552" style="font-weight:700" >16 407</text>
<text x="1565.19" y="255.09" font-size="36.37" textLength="112.34" lengthAdjust="spacingAndGlyphs" fill="#5af552" style="font-weight:700" >16 223</text>
<text x="1672.24" y="682.00" font-size="43.39" textLength="96.46" lengthAdjust="spacingAndGlyphs" fill="#f8d466" style="font-weight:700" >4227</text>
<text x="1573.45" y="714.85" font-size="35.59" textLength="80.59" lengthAdjust="spacingAndGlyphs" fill="#f8d466" style="font-weight:700" >4179</text>
<text x="1573.68" y="763.64" font-size="36.72" textLength="81.94" lengthAdjust="spacingAndGlyphs" fill="#f5a42e" style="font-weight:700" >1977</text>
<text x="1680.58" y="776.27" font-size="44.35" textLength="96.05" lengthAdjust="spacingAndGlyphs" fill="#f5a42e" style="font-weight:700" >1888</text>
<text x="1603.65" y="828.15" font-size="36.02" textLength="60.35" lengthAdjust="spacingAndGlyphs" fill="#3a28be" style="font-weight:700" >485</text>
<text x="1693.35" y="830.18" font-size="43.08" textLength="71.26" lengthAdjust="spacingAndGlyphs" fill="#3a28be" style="font-weight:700" >492</text>
<path d="M181.50,948.90H213.70" stroke="#ffffff" stroke-width="5" stroke-linecap="round"/>
<text x="217.55" y="957.6" font-size="26.60" textLength="241.04" lengthAdjust="spacingAndGlyphs" fill="#ffffff" style="font-weight:700">Всего заболевших</text>
<path d="M514.50,948.90H545.30" stroke="#55f05a" stroke-width="5" stroke-linecap="round"/>
<text x="549.26" y="957.6" font-size="26.60" textLength="318.17" lengthAdjust="spacingAndGlyphs" fill="#00d83c" style="font-weight:700">Выписаны из больницы</text>
<path d="M924.50,948.90H954.20" stroke="#f6d567" stroke-width="5" stroke-linecap="round"/>
<text x="959.22" y="957.6" font-size="26.60" textLength="298.23" lengthAdjust="spacingAndGlyphs" fill="#f4d36a" style="font-weight:700">Находится на лечении</text>
<path d="M1312.80,948.90H1342.50" stroke="#2c22ae" stroke-width="5" stroke-linecap="round"/>
<text x="1348.49" y="957.6" font-size="26.60" textLength="100.25" lengthAdjust="spacingAndGlyphs" fill="#3a28be" style="font-weight:700">Умерло</text>
<path d="M1505.10,948.90H1534.80" stroke="#f4a12c" stroke-width="5" stroke-linecap="round"/>
<text x="1541.41" y="957.6" font-size="26.60" textLength="156.38" lengthAdjust="spacingAndGlyphs" fill="#f2a43a" style="font-weight:700">Занято коек</text>
</svg></body></html>
